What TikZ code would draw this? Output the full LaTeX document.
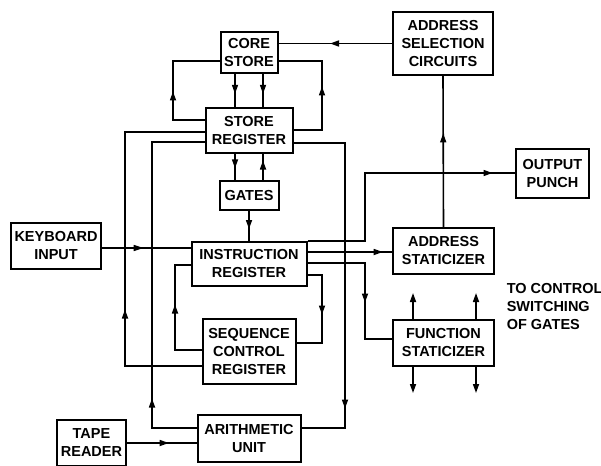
\documentclass[tikz,border=0pt]{standalone}
\usepackage{fontspec}
\setmainfont{Liberation Sans}
\usetikzlibrary{arrows.meta,positioning,calc,decorations.markings}

\newcommand{\blockfont}{\fontsize{14.5}{18}\selectfont\bfseries}

\tikzset{
    >={Triangle[length=9pt,width=6pt]},
    midtip/.style={postaction={decorate},
        decoration={markings, mark=at position #1 with {\arrow{>}}}},
    midopen/.style={postaction={decorate},
        decoration={markings, mark=at position #1 with {\arrow{Triangle[open,length=10pt,width=6pt]}}}}
}

\begin{document}
\begin{tikzpicture}[x=1pt, y=-1pt, line width=1.6pt,
    block/.style={rectangle, draw, line width=2pt, align=center, inner sep=0pt, font=\blockfont},
    note/.style={align=left, inner sep=0pt, font=\blockfont}
]
    \useasboundingbox (0,0) rectangle (601,465);

    % centre column
    \node[block, minimum width=57pt, minimum height=41pt] (core) at (249,52.5) {CORE\\STORE};
    \node[block, minimum width=87pt, minimum height=45pt, below=33pt of core] (sreg) {STORE\\REGISTER};
    \node[block, minimum width=59pt, minimum height=29pt, below=26pt of sreg] (gates) {GATES};
    \node[block, minimum width=115pt, minimum height=44pt, below=30pt of gates] (ireg) {INSTRUCTION\\REGISTER};
    \node[block, minimum width=93pt, minimum height=65pt, below=31pt of ireg] (seq) {SEQUENCE\\CONTROL\\REGISTER};
    \node[block, minimum width=103pt, minimum height=47pt, below=29pt of seq] (arith) {ARITHMETIC\\UNIT};

    % left side
    \node[block, minimum width=90pt, minimum height=46pt] (kbd) at (56,246) {KEYBOARD\\INPUT};
    \node[block, minimum width=69pt, minimum height=46pt] (tape) at (91.5,443) {TAPE\\READER};

    % right side
    \node[block, minimum width=100pt, minimum height=63pt] (asel) at (443,43.5) {ADDRESS\\SELECTION\\CIRCUITS};
    \node[block, minimum width=73pt, minimum height=49pt] (outp) at (552.5,173.5) {OUTPUT\\PUNCH};
    \node[block, minimum width=101pt, minimum height=46pt] (astat) at (443.5,251) {ADDRESS\\STATICIZER};
    \node[block, minimum width=101pt, minimum height=46pt, below=44pt of astat] (fstat) {FUNCTION\\STATICIZER};
    \node[note, anchor=north west] (gnote) at (506,283) {TO CONTROL\\SWITCHING\\OF GATES};

    % store loop
    \draw[midtip=62pt] (asel.west) -- (asel.west -| core.east);
    \draw[midtip=60pt] (sreg.west |- 0,120) -- (173,120) -- (173,61) -- (core.west |- 0,61);
    \draw[midtip=72pt] (sreg.east |- 0,130) -- (322,130) -- (322,61) -- (core.east |- 0,61);
    \draw[midtip=.6] (core.south -| 235,0) -- (sreg.north -| 235,0);
    \draw[midtip=.6] (core.south -| 263,0) -- (sreg.north -| 263,0);
    \draw[midtip=.55] (sreg.south -| 235,0) -- (gates.north -| 235,0);
    \draw[midtip=.75] (gates.north -| 263,0) -- (sreg.south -| 263,0);
    \draw[midtip=.6] (gates.south) -- (ireg.north);

    % inputs and arithmetic
    \draw[midopen=.47] (kbd.east |- 0,248) -- (ireg.west |- 0,248);
    \draw[midtip=133pt] (seq.west |- 0,366) -- (125,366) -- (125,132) -- (sreg.west |- 0,132);
    \draw[midtip=74pt] (arith.west |- 0,428) -- (152,428) -- (152,142) -- (sreg.west |- 0,142);
    \draw[midtip=317pt] (sreg.east |- 0,143) -- (345,143) -- (345,428) -- (arith.east |- 0,428);
    \draw[midtip=.6] (tape.east |- 0,443) -- (arith.west |- 0,443);

    % instruction register outputs
    \draw[midtip=253pt] (ireg.east |- 0,241) -- (365,241) -- (365,173) -- (outp.west |- 0,173);
    \draw[midtip=.89] (ireg.east |- 0,252) -- (astat.west |- 0,252);
    \draw[midtip=97pt] (ireg.east |- 0,263) -- (365,263) -- (365,339) -- (fstat.west |- 0,339);
    \draw[midtip=54pt] (ireg.east |- 0,275) -- (322,275) -- (322,343) -- (seq.east |- 0,343);
    \draw[midtip=72pt] (seq.west |- 0,350) -- (175,350) -- (175,265) -- (ireg.west |- 0,265);
    \draw[midtip=.62] (astat.north) -- (asel.south);

    % gate switching
    \foreach \fx [count=\i] in {413,476} {
        \coordinate (up\i) at (\fx,293);
        \coordinate (dn\i) at (\fx,393);
        \draw[->] (fstat.north -| up\i) -- (up\i);
        \draw[->] (fstat.south -| dn\i) -- (dn\i);
    }
\end{tikzpicture}
\end{document}
